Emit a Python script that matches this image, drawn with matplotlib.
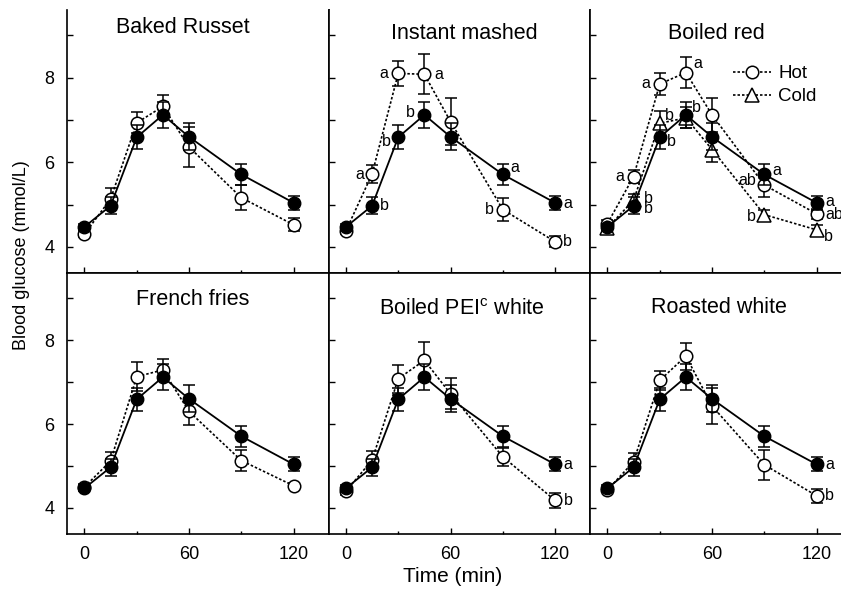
import matplotlib
matplotlib.use("Agg")
import matplotlib.pyplot as plt
from matplotlib.lines import Line2D
from matplotlib.ticker import MultipleLocator

plt.rcParams['font.family'] = ['Liberation Sans', 'DejaVu Sans']
plt.rcParams['mathtext.fontset'] = 'custom'
plt.rcParams['mathtext.rm'] = 'Liberation Sans'
plt.rcParams['mathtext.it'] = 'Liberation Sans:italic'

#######################################################
# Data
#######################################################
time = [0, 15, 30, 45, 60, 90, 120]

# reference glucose, same curve in every panel
ref_mean = [4.47, 4.97, 6.59, 7.12, 6.60, 5.71, 5.04]
ref_err = [0.07, 0.20, 0.28, 0.30, 0.32, 0.25, 0.17]

baked_hot = [4.30, 5.13, 6.93, 7.32, 6.36, 5.16, 4.52]
baked_hot_err = [0.08, 0.25, 0.25, 0.28, 0.48, 0.29, 0.15]

instant_hot = [4.38, 5.72, 8.10, 8.08, 6.96, 4.88, 4.12]
instant_hot_err = [0.08, 0.22, 0.30, 0.47, 0.55, 0.28, 0.13]

red_hot = [4.55, 5.66, 7.85, 8.12, 7.12, 5.46, 4.78]
red_hot_err = [0.08, 0.15, 0.26, 0.37, 0.40, 0.29, 0.12]
red_cold = [4.45, 5.10, 6.92, 7.05, 6.30, 4.76, 4.40]
red_cold_err = [0.08, 0.15, 0.30, 0.25, 0.30, 0.12, 0.12]

fries_hot = [4.50, 5.12, 7.13, 7.29, 6.30, 5.13, 4.53]
fries_hot_err = [0.06, 0.22, 0.35, 0.27, 0.32, 0.24, 0.06]

pei_hot = [4.40, 5.14, 7.08, 7.52, 6.72, 5.22, 4.18]
pei_hot_err = [0.08, 0.22, 0.33, 0.44, 0.37, 0.21, 0.18]

roast_hot = [4.43, 5.10, 7.04, 7.62, 6.43, 5.03, 4.29]
roast_hot_err = [0.06, 0.20, 0.22, 0.32, 0.42, 0.36, 0.17]

titles = ['Baked Russet', 'Instant mashed', 'Boiled red',
          'French fries', r'Boiled PEI$^{\mathrm{c}}$ white', 'Roasted white']

# significance letters: (series, time index, letter, dx px, dy px)
instant_letters = [('hot', 1, 'a', -12, 0), ('hot', 2, 'a', -14, 0), ('hot', 3, 'a', 14, 0),
                   ('hot', 5, 'b', -13, 0), ('hot', 6, 'b', 12, 0),
                   ('ref', 1, 'b', 12, 0), ('ref', 2, 'b', -12, -4), ('ref', 3, 'b', -14, 2),
                   ('ref', 5, 'a', 12, 7), ('ref', 6, 'a', 13, -1)]
red_letters = [('hot', 1, 'a', -14, 0), ('hot', 2, 'a', -14, 0), ('hot', 3, 'a', 12, 9),
               ('cold', 2, 'b', 10, 8), ('ref', 2, 'b', 12, -4), ('ref', 3, 'b', 10, 7),
               ('cold', 1, 'b', 15, 2), ('ref', 1, 'b', 15, -3),
               ('ref', 5, 'a', 12, 4), ('hot', 5, 'ab', -17, 5), ('cold', 5, 'b', -13, -2),
               ('ref', 6, 'a', 13, 1), ('hot', 6, 'ab', 18, -1), ('cold', 6, 'b', 12, -7)]
end_letters = [('ref', 6, 'a', 13, 0), ('hot', 6, 'b', 13, 0)]

panels = [
    (baked_hot, baked_hot_err, None, None, []),
    (instant_hot, instant_hot_err, None, None, instant_letters),
    (red_hot, red_hot_err, red_cold, red_cold_err, red_letters),
    (fries_hot, fries_hot_err, None, None, []),
    (pei_hot, pei_hot_err, None, None, end_letters),
    (roast_hot, roast_hot_err, None, None, end_letters),
]

#######################################################
# Layout (pixels)
#######################################################
W, H = 841, 591
col_left = [67, 328.5, 590]
pw = 261.5
rows = [(10, 273), (273, 534)]
title_pos = [(0.442, 0.9125), (0.52, 0.89), (0.484, 0.89),
             (0.48, 0.877), (0.51, 0.838), (0.493, 0.847)]

fig = plt.figure(figsize=(W / 100, H / 100), dpi=100)
dotted = (0, (1.5, 1.2))
px = 0.72  # pixels -> points

for i, (hot, hot_err, cold, cold_err, letters) in enumerate(panels):
    r, c = divmod(i, 3)
    top, bot = rows[r]
    ax = fig.add_axes([col_left[c] / W, 1 - bot / H, pw / W, (bot - top) / H])
    ax.set_xlim(-10, 140)
    ax.set_ylim(3.38, 9.6)

    series = {'hot': hot, 'ref': ref_mean}
    ax.errorbar(time, hot, yerr=hot_err, fmt='none', ecolor='k', elinewidth=1.1,
                capsize=4.5, capthick=1.1, zorder=2)
    ax.plot(time, hot, ls=dotted, lw=1.2, color='k', marker='o', ms=9,
            mfc='white', mec='k', mew=1.1, zorder=2.5)
    if cold is not None:
        series['cold'] = cold
        ax.errorbar(time, cold, yerr=cold_err, fmt='none', ecolor='k', elinewidth=1.1,
                    capsize=4.5, capthick=1.1, zorder=3)
        ax.plot(time, cold, ls=dotted, lw=1.2, color='k', marker='^', ms=10,
                mfc='white', mec='k', mew=1.1, zorder=3.5)
    ax.errorbar(time, ref_mean, yerr=ref_err, fmt='none', ecolor='k', elinewidth=1.1,
                capsize=4.5, capthick=1.1, zorder=4)
    ax.plot(time, ref_mean, ls='-', lw=1.3, color='k', marker='o', ms=9,
            mfc='k', mec='k', zorder=4.5)

    for key, idx, txt, dx, dy in letters:
        ax.annotate(txt, (time[idx], series[key][idx]), xytext=(dx * px, dy * px),
                    textcoords='offset points', ha='center', va='center',
                    fontsize=11.5, zorder=6)

    tx, ty = title_pos[i]
    ax.text(tx, ty, titles[i], transform=ax.transAxes, ha='center', va='baseline',
            fontsize=15.5)

    ax.xaxis.set_major_locator(MultipleLocator(60))
    ax.xaxis.set_minor_locator(MultipleLocator(30))
    ax.yaxis.set_major_locator(MultipleLocator(2))
    ax.yaxis.set_minor_locator(MultipleLocator(1))
    ax.tick_params(which='both', direction='in', width=1.0, labelsize=13)
    ax.tick_params(axis='y', which='both', length=4, pad=9)
    ax.tick_params(axis='x', which='major', length=4, pad=8.5)
    ax.tick_params(axis='x', which='minor', length=2.5)
    if c > 0:
        ax.tick_params(labelleft=False)
    if r == 0:
        ax.tick_params(labelbottom=False)
        ax.spines['top'].set_visible(False)
    for sp in ax.spines.values():
        sp.set_linewidth(1.2)

    if i == 2:
        handles = [Line2D([], [], ls=dotted, lw=1.2, color='k', marker='o', ms=9,
                          mfc='white', mec='k', mew=1.1, label='Hot'),
                   Line2D([], [], ls=dotted, lw=1.2, color='k', marker='^', ms=10,
                          mfc='white', mec='k', mew=1.1, label='Cold')]
        ax.legend(handles=handles, loc='upper left', bbox_to_anchor=(0.547, 0.79),
                  frameon=False, fontsize=13.5, handlelength=2.0, handletextpad=0.4,
                  labelspacing=0.3, borderpad=0, borderaxespad=0, numpoints=1)

fig.text(22 / W, 1 - 255 / H, 'Blood glucose (mmol/L)', rotation=90,
         ha='center', va='center', fontsize=13)
fig.text(453 / W, 1 - 577 / H, 'Time (min)', ha='center', va='center', fontsize=15)

fig.savefig('out.png', dpi=100)
